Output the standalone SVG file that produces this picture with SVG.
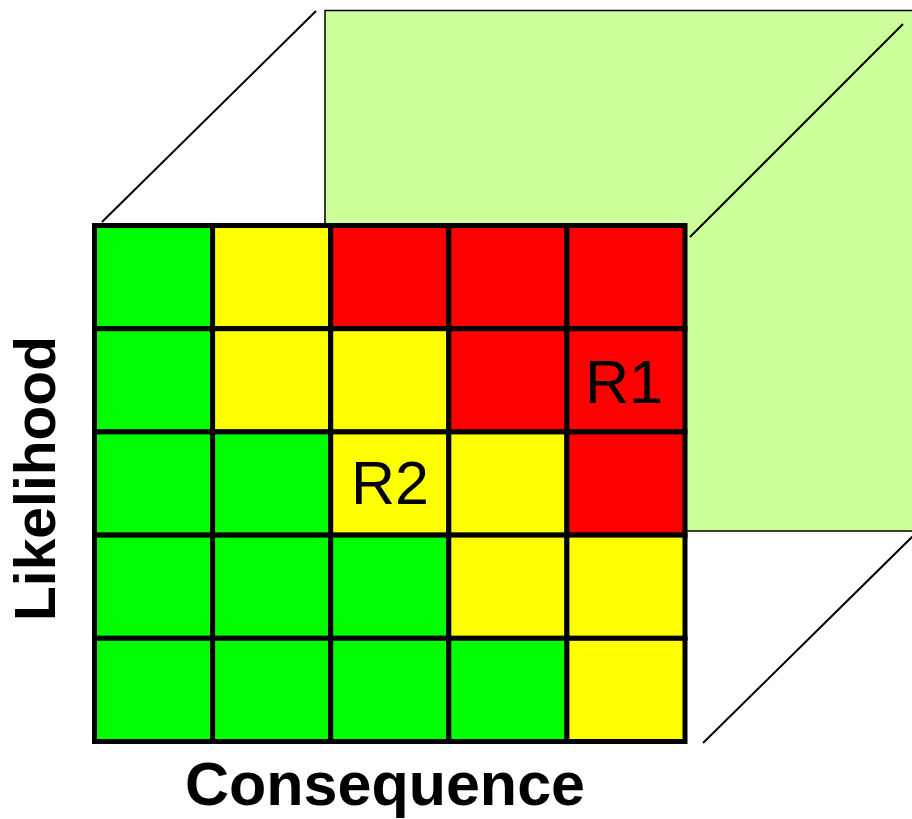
<svg xmlns="http://www.w3.org/2000/svg" width="912" height="819" viewBox="0 0 912 819">
  <style>
    .edge { stroke: #000; stroke-width: 2; fill: none; }
    .cell { stroke: #000; stroke-width: 5; }
    .g { fill: #00ff00; }
    .y { fill: #ffff00; }
    .r { fill: #ff0000; }
    .risk { font-family: "Liberation Sans", Arial, sans-serif; font-size: 61px; fill: #000; text-anchor: middle; }
    .axis { font-family: "Liberation Sans", Arial, sans-serif; font-weight: bold; fill: #000; text-anchor: middle; }
  </style>

  <!-- back face of the risk cube -->
  <g id="back-face">
    <rect x="325" y="10.5" width="600" height="520.5" fill="#ccff99" stroke="#000" stroke-width="1.5"/>
  </g>

  <!-- depth edges joining the front grid to the back face -->
  <g id="connectors">
    <line class="edge" x1="102" y1="222" x2="316" y2="11"/>
    <line class="edge" x1="690" y1="237" x2="903" y2="24"/>
    <line class="edge" x1="703" y1="743" x2="914" y2="535"/>
  </g>

  <!-- front face: 5x5 likelihood / consequence matrix -->
  <g id="matrix">
    <!-- row 1 -->
    <rect class="cell g" x="94.5" y="225.5" width="118.1" height="103.2"/>
    <rect class="cell y" x="212.6" y="225.5" width="118.1" height="103.2"/>
    <rect class="cell r" x="330.7" y="225.5" width="118.1" height="103.2"/>
    <rect class="cell r" x="448.8" y="225.5" width="118.1" height="103.2"/>
    <rect class="cell r" x="566.9" y="225.5" width="118.1" height="103.2"/>
    <!-- row 2 -->
    <rect class="cell g" x="94.5" y="328.7" width="118.1" height="103.2"/>
    <rect class="cell y" x="212.6" y="328.7" width="118.1" height="103.2"/>
    <rect class="cell y" x="330.7" y="328.7" width="118.1" height="103.2"/>
    <rect class="cell r" x="448.8" y="328.7" width="118.1" height="103.2"/>
    <rect class="cell r" x="566.9" y="328.7" width="118.1" height="103.2"/>
    <!-- row 3 -->
    <rect class="cell g" x="94.5" y="431.9" width="118.1" height="103.2"/>
    <rect class="cell g" x="212.6" y="431.9" width="118.1" height="103.2"/>
    <rect class="cell y" x="330.7" y="431.9" width="118.1" height="103.2"/>
    <rect class="cell y" x="448.8" y="431.9" width="118.1" height="103.2"/>
    <rect class="cell r" x="566.9" y="431.9" width="118.1" height="103.2"/>
    <!-- row 4 -->
    <rect class="cell g" x="94.5" y="535.1" width="118.1" height="103.2"/>
    <rect class="cell g" x="212.6" y="535.1" width="118.1" height="103.2"/>
    <rect class="cell g" x="330.7" y="535.1" width="118.1" height="103.2"/>
    <rect class="cell y" x="448.8" y="535.1" width="118.1" height="103.2"/>
    <rect class="cell y" x="566.9" y="535.1" width="118.1" height="103.2"/>
    <!-- row 5 -->
    <rect class="cell g" x="94.5" y="638.3" width="118.1" height="103.2"/>
    <rect class="cell g" x="212.6" y="638.3" width="118.1" height="103.2"/>
    <rect class="cell g" x="330.7" y="638.3" width="118.1" height="103.2"/>
    <rect class="cell g" x="448.8" y="638.3" width="118.1" height="103.2"/>
    <rect class="cell y" x="566.9" y="638.3" width="118.1" height="103.2"/>
  </g>

  <!-- plotted risks -->
  <g id="risk-r1">
    <text class="risk" x="624" y="403">R1</text>
  </g>
  <g id="risk-r2">
    <text class="risk" x="390" y="504">R2</text>
  </g>

  <!-- axis titles -->
  <g id="axis-x">
    <text class="axis" x="385" y="805" font-size="61">Consequence</text>
  </g>
  <g id="axis-y">
    <text class="axis" transform="translate(55 478.5) rotate(-90)" x="0" y="0" font-size="57">Likelihood</text>
  </g>
</svg>
